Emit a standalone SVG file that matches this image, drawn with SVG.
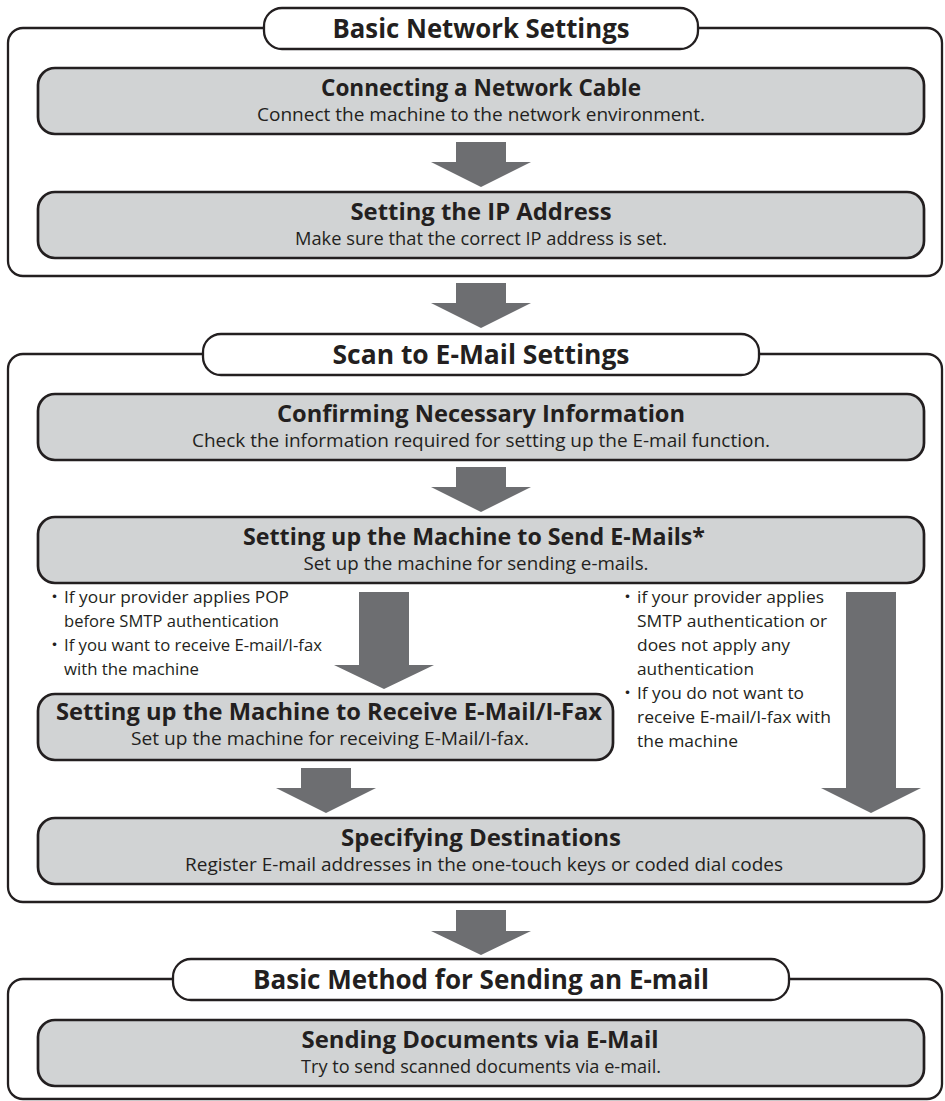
<svg xmlns="http://www.w3.org/2000/svg" width="945" height="1101" viewBox="0 0 945 1101">
<defs>
<style>
.bg{fill:#ffffff}
.frame{fill:none;stroke:#231f20;stroke-width:2.3}
.pill{fill:#ffffff;stroke:#231f20;stroke-width:2.3}
.box{fill:#d1d3d4;stroke:#231f20;stroke-width:2.7}
.arr{fill:#6d6e71;stroke:none}
text{fill:#231f20;font-family:"Open Sans","Noto Sans","Liberation Sans",sans-serif}
.h{font-size:26px;font-weight:700;text-anchor:middle}
.t{font-size:23.5px;font-weight:700;text-anchor:middle}
.s{font-size:18.5px;font-weight:400;text-anchor:middle}
.n{font-size:17px;font-weight:400}
.b{font-family:"Noto Sans CJK JP",sans-serif}
</style>
</defs>
<rect class="bg" x="0" y="0" width="945" height="1101"/>

<g id="section-basic-network">
<rect class="frame" x="8" y="28" width="934" height="248" rx="15"/>
<rect class="pill" x="264" y="8" width="434" height="41" rx="18"/>
<text class="h" x="481" y="38" textLength="297" lengthAdjust="spacingAndGlyphs">Basic Network Settings</text>
</g>
<g id="node-connecting-cable">
<rect class="box" x="38" y="68" width="886" height="66" rx="17"/>
<text class="t" x="481" y="96" textLength="320" lengthAdjust="spacingAndGlyphs">Connecting a Network Cable</text>
<text class="s" x="481" y="121" textLength="448" lengthAdjust="spacingAndGlyphs">Connect the machine to the network environment.</text>
</g>
<g id="node-ip-address">
<rect class="box" x="38" y="192" width="886" height="66" rx="17"/>
<text class="t" x="481" y="220" textLength="261" lengthAdjust="spacingAndGlyphs">Setting the IP Address</text>
<text class="s" x="481" y="245" textLength="372" lengthAdjust="spacingAndGlyphs">Make sure that the correct IP address is set.</text>
</g>

<g id="section-scan-email">
<rect class="frame" x="8" y="354" width="934" height="548" rx="15"/>
<rect class="pill" x="203" y="334" width="556" height="41" rx="18"/>
<text class="h" x="481" y="364" textLength="297" lengthAdjust="spacingAndGlyphs">Scan to E-Mail Settings</text>
</g>
<g id="node-confirming">
<rect class="box" x="38" y="394" width="886" height="66" rx="17"/>
<text class="t" x="481" y="422" textLength="408" lengthAdjust="spacingAndGlyphs">Confirming Necessary Information</text>
<text class="s" x="481" y="447" textLength="578" lengthAdjust="spacingAndGlyphs">Check the information required for setting up the E-mail function.</text>
</g>
<g id="node-send-setup">
<rect class="box" x="38" y="517" width="886" height="66" rx="17"/>
<text class="t" x="474" y="545" textLength="462" lengthAdjust="spacingAndGlyphs">Setting up the Machine to Send E-Mails*</text>
<text class="s" x="476" y="570" textLength="345" lengthAdjust="spacingAndGlyphs">Set up the machine for sending e-mails.</text>
</g>
<g id="node-receive-setup">
<rect class="box" x="38" y="694" width="575" height="66" rx="17"/>
<text class="t" x="329" y="720" textLength="546" lengthAdjust="spacingAndGlyphs">Setting up the Machine to Receive E-Mail/I-Fax</text>
<text class="s" x="330" y="745" textLength="398" lengthAdjust="spacingAndGlyphs">Set up the machine for receiving E-Mail/I-fax.</text>
</g>
<g id="node-destinations">
<rect class="box" x="38" y="818" width="886" height="66" rx="17"/>
<text class="t" x="481" y="846" textLength="280" lengthAdjust="spacingAndGlyphs">Specifying Destinations</text>
<text class="s" x="484" y="871" textLength="598" lengthAdjust="spacingAndGlyphs">Register E-mail addresses in the one-touch keys or coded dial codes</text>
</g>

<g id="section-basic-method">
<rect class="frame" x="8" y="979" width="934" height="120" rx="15"/>
<rect class="pill" x="173" y="959" width="616" height="41" rx="18"/>
<text class="h" x="481" y="989" textLength="456" lengthAdjust="spacingAndGlyphs">Basic Method for Sending an E-mail</text>
</g>
<g id="node-sending-docs">
<rect class="box" x="38" y="1020" width="886" height="66" rx="17"/>
<text class="t" x="480" y="1048" textLength="357" lengthAdjust="spacingAndGlyphs">Sending Documents via E-Mail</text>
<text class="s" x="481" y="1073" textLength="360" lengthAdjust="spacingAndGlyphs">Try to send scanned documents via e-mail.</text>
</g>

<g id="connectors">
<polygon class="arr" points="456,142 506,142 506,162 531,162 481,187 431,162 456,162"/>
<polygon class="arr" points="456,283 506,283 506,303 531,303 481,328 431,303 456,303"/>
<polygon class="arr" points="456,467 506,467 506,487 531,487 481,512 431,487 456,487"/>
<polygon class="arr" points="359,592 409,592 409,665 434,665 384,689 334,665 359,665"/>
<polygon class="arr" points="846,592 896,592 896,788 921,788 871,813 821,788 846,788"/>
<polygon class="arr" points="301,768 351,768 351,788 376,788 326,813 276,788 301,788"/>
<polygon class="arr" points="456,910 506,910 506,931 531,931 481,955 431,931 456,931"/>
</g>

<g id="notes-left">
<text class="n" x="46" y="603"><tspan class="b">・</tspan><tspan x="64" textLength="225" lengthAdjust="spacingAndGlyphs">If your provider applies POP</tspan></text>
<text class="n" x="64" y="627" textLength="215" lengthAdjust="spacingAndGlyphs">before SMTP authentication</text>
<text class="n" x="46" y="651"><tspan class="b">・</tspan><tspan x="64" textLength="258" lengthAdjust="spacingAndGlyphs">If you want to receive E-mail/I-fax</tspan></text>
<text class="n" x="64" y="675" textLength="135" lengthAdjust="spacingAndGlyphs">with the machine</text>
</g>
<g id="notes-right">
<text class="n" x="619" y="603"><tspan class="b">・</tspan><tspan x="637" textLength="187" lengthAdjust="spacingAndGlyphs">if your provider applies</tspan></text>
<text class="n" x="637" y="627" textLength="190" lengthAdjust="spacingAndGlyphs">SMTP authentication or</text>
<text class="n" x="637" y="651" textLength="153" lengthAdjust="spacingAndGlyphs">does not apply any</text>
<text class="n" x="637" y="675" textLength="117" lengthAdjust="spacingAndGlyphs">authentication</text>
<text class="n" x="619" y="699"><tspan class="b">・</tspan><tspan x="637" textLength="167" lengthAdjust="spacingAndGlyphs">If you do not want to</tspan></text>
<text class="n" x="637" y="723" textLength="194" lengthAdjust="spacingAndGlyphs">receive E-mail/I-fax with</text>
<text class="n" x="637" y="747" textLength="101" lengthAdjust="spacingAndGlyphs">the machine</text>
</g>
</svg>
